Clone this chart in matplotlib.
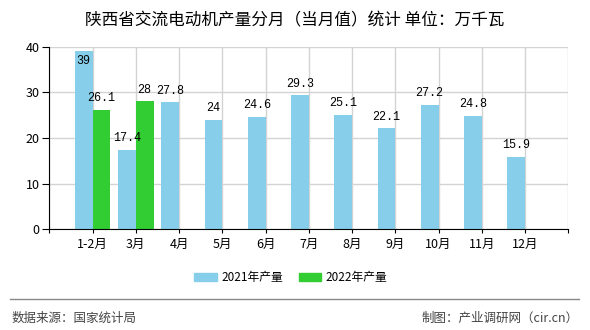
import matplotlib
matplotlib.use('Agg')
import matplotlib.pyplot as plt
import matplotlib.patches as patches
from matplotlib.lines import Line2D
import numpy as np

plt.rcParams['font.family'] = ['Noto Sans CJK SC', 'DejaVu Sans']

# data
months = ['1-2月', '3月', '4月', '5月', '6月', '7月', '8月', '9月', '10月', '11月', '12月']
prod_2021 = [39, 17.4, 27.8, 24, 24.6, 29.3, 25.1, 22.1, 27.2, 24.8, 15.9]
prod_2022 = [26.1, 28]
series_names = ['2021年产量', '2022年产量']
title = '陕西省交流电动机产量分月（当月值）统计 单位：万千瓦'

c2021 = '#87CEEB'
c2022 = '#32CD32'

fig = plt.figure(figsize=(5.9, 3.3), dpi=100)
ax = fig.add_axes([0.0836, 0.3052, 0.9632 - 0.0836, 0.859 - 0.3052])

w = 0.41
x = np.arange(len(months))
x2 = np.arange(len(prod_2022))
ax.bar(x - w / 2, prod_2021, w, color=c2021, zorder=3)
ax.bar(x2 + w / 2, prod_2022, w, color=c2022, zorder=3)

ax.set_xlim(-1, len(months))
ax.set_ylim(0, 40)

# value labels (the one near the top goes inside the bar)
def put_label(xx, v):
    if v > 36:
        ax.annotate(str(v), xy=(xx, v), xytext=(0, -3), textcoords='offset points',
                    ha='center', va='top', fontsize=8.5, family='Liberation Mono', zorder=4)
    else:
        ax.annotate(str(v), xy=(xx, v), xytext=(0, 4), textcoords='offset points',
                    ha='center', va='bottom', fontsize=8.5, family='Liberation Mono', zorder=4)

for xx, v in zip(x - w / 2, prod_2021):
    put_label(xx, v)
for xx, v in zip(x2 + w / 2, prod_2022):
    put_label(xx, v)

# axes style
tick_pos = np.arange(-1, len(months) + 1)
ax.set_xticks(tick_pos)
ax.set_xticklabels([''] + months + [''], fontsize=9)
ax.set_yticks([0, 10, 20, 30, 40])
ax.set_yticklabels(['0', '10', '20', '30', '40'], fontsize=9)
ax.tick_params(axis='x', length=3, pad=3, color='black')
ax.tick_params(axis='y', length=5, pad=2, color='black')
ax.grid(True, color='#d3d3d3', lw=1, zorder=0)
for s in ['top', 'right']:
    ax.spines[s].set_visible(False)
ax.spines['left'].set_zorder(5)
ax.spines['bottom'].set_zorder(5)

fig.text(0.5, 1 - 21 / 330, title, ha='center', va='center', fontsize=12)

handles = [patches.Patch(color=c2021), patches.Patch(color=c2022)]
fig.legend(handles, series_names, loc='center', bbox_to_anchor=(0.4927, 1 - 277.3 / 330),
           ncol=2, frameon=False, fontsize=8.5, handlelength=1.9, handleheight=0.68,
           handletextpad=0.37, columnspacing=1.33)

# footer
fig.add_artist(Line2D([10 / 590, 579 / 590], [1 - 299 / 330] * 2, color='#888888', lw=1))
fig.text(11.5 / 590, 1 - 318.6 / 330, '数据来源：国家统计局', ha='left', va='center',
         fontsize=9, color='#444444')
fig.text(579 / 590, 1 - 318.6 / 330, '制图：产业调研网（cir.cn）', ha='right', va='center',
         fontsize=9, color='#444444')

fig.savefig('out.png', dpi=100)
